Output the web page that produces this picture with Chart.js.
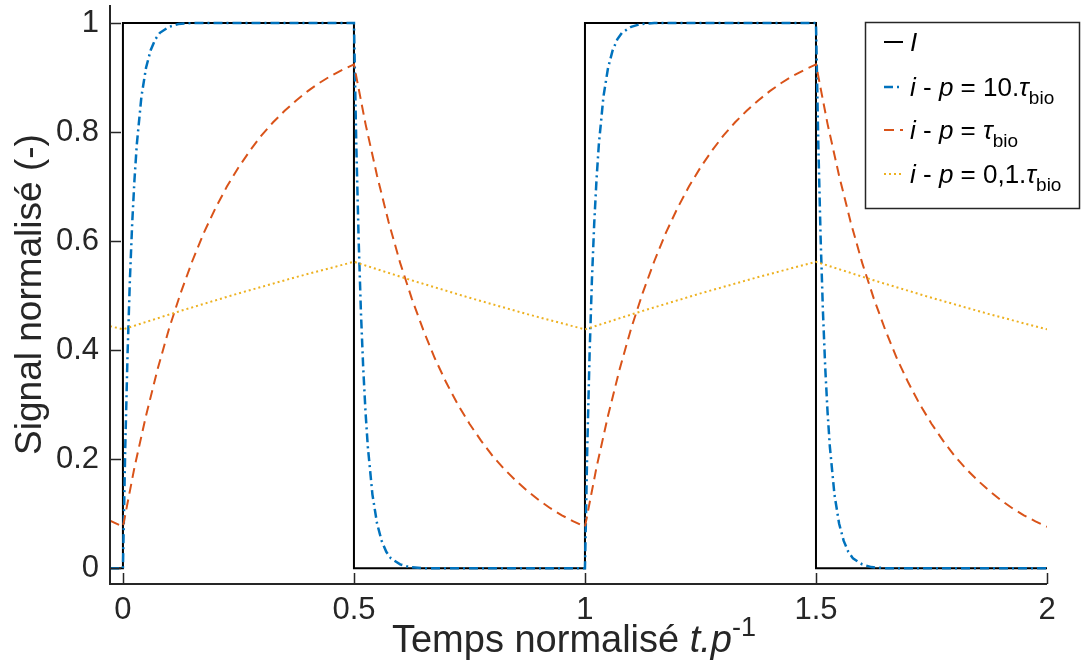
<!DOCTYPE html>
<html>
<head>
<meta charset="utf-8">
<title>Signal normalisé</title>
<script src="https://cdnjs.cloudflare.com/ajax/libs/Chart.js/4.4.0/chart.umd.min.js"></script>
<style>
  html, body { margin: 0; padding: 0; background: #fff; }
  #wrap { width: 1081px; height: 670px; }
</style>
</head>
<body>
<div id="wrap"><canvas id="chart" width="1081" height="670"></canvas></div>
<script>
// axis ranges and ticks
const xMin = -0.028, xMax = 2;
const yMin = -0.029, yMax = 1.033;
const xTicks = [0, 0.5, 1, 1.5, 2];
const yTicks = [0, 0.2, 0.4, 0.6, 0.8, 1];

// I : square excitation
const iTime = [-0.028, 0, 0, 0.5, 0.5, 1, 1, 1.5, 1.5, 2];
const iVal  = [0, 0, 1, 1, 0, 0, 1, 1, 0, 0];

// i - p = 10.tau_bio (fast response)
const fastTime = [
  -0.028,
  0, 0.005, 0.01, 0.015, 0.02, 0.025, 0.03, 0.04, 0.05, 0.06, 0.07, 0.08, 0.1, 0.12, 0.15,
  0.5, 0.505, 0.51, 0.515, 0.52, 0.525, 0.53, 0.54, 0.55, 0.56, 0.57, 0.58, 0.6, 0.62, 0.65,
  1, 1.005, 1.01, 1.015, 1.02, 1.025, 1.03, 1.04, 1.05, 1.06, 1.07, 1.08, 1.1, 1.12, 1.15,
  1.5, 1.505, 1.51, 1.515, 1.52, 1.525, 1.53, 1.54, 1.55, 1.56, 1.57, 1.58, 1.6, 1.62, 1.65,
  2
];
const fastVal = [
  0,
  0, 0.221, 0.393, 0.528, 0.632, 0.713, 0.777, 0.865, 0.918, 0.950, 0.970, 0.982, 0.993, 0.998, 1,
  1, 0.779, 0.607, 0.472, 0.368, 0.287, 0.223, 0.135, 0.082, 0.050, 0.030, 0.018, 0.007, 0.002, 0,
  0, 0.221, 0.393, 0.528, 0.632, 0.713, 0.777, 0.865, 0.918, 0.950, 0.970, 0.982, 0.993, 0.998, 1,
  1, 0.779, 0.607, 0.472, 0.368, 0.287, 0.223, 0.135, 0.082, 0.050, 0.030, 0.018, 0.007, 0.002, 0,
  0
];

// i - p = tau_bio
const midTime = [
  -0.028,
  0, 0.025, 0.05, 0.075, 0.1, 0.125, 0.15, 0.175, 0.2, 0.225, 0.25, 0.275, 0.3, 0.325, 0.35, 0.375, 0.4, 0.425, 0.45, 0.475,
  0.5, 0.525, 0.55, 0.575, 0.6, 0.625, 0.65, 0.675, 0.7, 0.725, 0.75, 0.775, 0.8, 0.825, 0.85, 0.875, 0.9, 0.925, 0.95, 0.975,
  1, 1.025, 1.05, 1.075, 1.1, 1.125, 1.15, 1.175, 1.2, 1.225, 1.25, 1.275, 1.3, 1.325, 1.35, 1.375, 1.4, 1.425, 1.45, 1.475,
  1.5, 1.525, 1.55, 1.575, 1.6, 1.625, 1.65, 1.675, 1.7, 1.725, 1.75, 1.775, 1.8, 1.825, 1.85, 1.875, 1.9, 1.925, 1.95, 1.975,
  2
];
const midVal = [
  0.087,
  0.076, 0.185, 0.280, 0.365, 0.440, 0.505, 0.563, 0.615, 0.660, 0.700, 0.735, 0.766, 0.794, 0.818, 0.839, 0.858, 0.875, 0.890, 0.903, 0.914,
  0.924, 0.815, 0.720, 0.635, 0.560, 0.495, 0.437, 0.385, 0.340, 0.300, 0.265, 0.234, 0.206, 0.182, 0.161, 0.142, 0.125, 0.110, 0.097, 0.086,
  0.076, 0.185, 0.280, 0.365, 0.440, 0.505, 0.563, 0.615, 0.660, 0.700, 0.735, 0.766, 0.794, 0.818, 0.839, 0.858, 0.875, 0.890, 0.903, 0.914,
  0.924, 0.815, 0.720, 0.635, 0.560, 0.495, 0.437, 0.385, 0.340, 0.300, 0.265, 0.234, 0.206, 0.182, 0.161, 0.142, 0.125, 0.110, 0.097, 0.086,
  0.076
];

// i - p = 0,1.tau_bio (slow response)
const slowTime = [-0.028, 0, 0.125, 0.25, 0.375, 0.5, 0.625, 0.75, 0.875, 1, 1.125, 1.25, 1.375, 1.5, 1.625, 1.75, 1.875, 2];
const slowVal  = [0.444, 0.438, 0.472, 0.504, 0.534, 0.562, 0.528, 0.496, 0.466, 0.438, 0.472, 0.504, 0.534, 0.562, 0.528, 0.496, 0.466, 0.438];

const colors = ['#000000', '#0072BD', '#D95319', '#EDB120'];
const dashes = [[], [9, 4, 2, 4], [10, 6], [2, 3]];
const widths = [2, 2.5, 2, 2];

// legend rows: [text, style] with style '' normal, 'i' italic, 's' subscript
const legendRows = [
  [['I', 'i']],
  [['i', 'i'], [' - ', ''], ['p', 'i'], [' = 10.', ''], ['τ', 'i'], ['bio', 's']],
  [['i', 'i'], [' - ', ''], ['p', 'i'], [' = ', ''], ['τ', 'i'], ['bio', 's']],
  [['i', 'i'], [' - ', ''], ['p', 'i'], [' = 0,1.', ''], ['τ', 'i'], ['bio', 's']]
];
const xTitle = [['Temps normalisé ', ''], ['t.p', 'i'], ['-1', 'p']];
const yTitle = 'Signal normalisé (-)';

const FONT = '"Liberation Sans", Arial, Helvetica, sans-serif';
const axisColor = '#262626';

function zip(t, v) {
  return t.map((x, k) => ({ x: x, y: v[k] }));
}

function fontFor(style, size) {
  if (style === 'i') return `italic ${size}px ${FONT}`;
  if (style === 's' || style === 'p') return `${Math.round(size * 0.72)}px ${FONT}`;
  return `${size}px ${FONT}`;
}

// draws mixed text (italic, sub/superscript) starting at x on baseline y
function drawRich(ctx, parts, x, y, size, align) {
  let total = 0;
  parts.forEach(([txt, st]) => { ctx.font = fontFor(st, size); total += ctx.measureText(txt).width; });
  let cx = align === 'center' ? x - total / 2 : x;
  ctx.textAlign = 'left';
  ctx.textBaseline = 'alphabetic';
  parts.forEach(([txt, st]) => {
    ctx.font = fontFor(st, size);
    let dy = 0;
    if (st === 's') dy = size * 0.32;
    if (st === 'p') dy = -size * 0.42;
    ctx.fillText(txt, cx, y + dy);
    cx += ctx.measureText(txt).width;
  });
}

// no extra room for tick labels at the ends of the axes
function noEndPadding(s) {
  s.paddingTop = 0;
  s.paddingBottom = 0;
  s.paddingLeft = 0;
  s.paddingRight = 0;
}

const framePlugin = {
  id: 'frame',
  afterDraw(chart) {
    const { ctx, chartArea: a, scales: { x, y } } = chart;
    ctx.save();

    // left and bottom spines
    ctx.strokeStyle = axisColor;
    ctx.lineWidth = 2;
    ctx.setLineDash([]);
    ctx.beginPath();
    ctx.moveTo(a.left, a.top);
    ctx.lineTo(a.left, a.bottom);
    ctx.lineTo(a.right, a.bottom);
    ctx.stroke();

    // ticks pointing inward
    ctx.lineWidth = 1.5;
    ctx.beginPath();
    xTicks.forEach(v => {
      const px = Math.round(x.getPixelForValue(v)) + 0.5;
      ctx.moveTo(px, a.bottom);
      ctx.lineTo(px, a.bottom - 11);
    });
    yTicks.forEach(v => {
      const py = Math.round(y.getPixelForValue(v)) + 0.5;
      ctx.moveTo(a.left, py);
      ctx.lineTo(a.left + 11, py);
    });
    ctx.stroke();

    // axis titles
    ctx.fillStyle = axisColor;
    drawRich(ctx, xTitle, 574, 652, 38, 'center');
    ctx.save();
    ctx.translate(41, (a.top + a.bottom) / 2);
    ctx.rotate(-Math.PI / 2);
    ctx.font = `37px ${FONT}`;
    ctx.textAlign = 'center';
    ctx.textBaseline = 'alphabetic';
    ctx.fillText(yTitle, 0, 0);
    ctx.restore();

    // legend box
    const bx = 865, by = 22, bw = 214, bh = 186;
    ctx.fillStyle = '#ffffff';
    ctx.fillRect(bx, by, bw, bh);
    ctx.strokeStyle = axisColor;
    ctx.lineWidth = 1.5;
    ctx.strokeRect(bx + 0.5, by + 0.5, bw, bh);

    const baselines = [51, 96, 139, 183];
    legendRows.forEach((row, k) => {
      ctx.strokeStyle = colors[k];
      ctx.lineWidth = widths[k];
      ctx.setLineDash(dashes[k]);
      ctx.beginPath();
      ctx.moveTo(884, baselines[k] - 9);
      ctx.lineTo(903, baselines[k] - 9);
      ctx.stroke();
      ctx.setLineDash([]);
      ctx.fillStyle = '#000000';
      drawRich(ctx, row, 910, baselines[k], 26, 'left');
    });

    ctx.restore();
  }
};

const series = [zip(iTime, iVal), zip(fastTime, fastVal), zip(midTime, midVal), zip(slowTime, slowVal)];
const names = ['I', 'i - p = 10.τbio', 'i - p = τbio', 'i - p = 0,1.τbio'];

const chart = new Chart(document.getElementById('chart'), {
  type: 'line',
  data: {
    datasets: series.map((d, k) => ({
      label: names[k],
      data: d,
      borderColor: colors[k],
      borderWidth: widths[k],
      borderDash: dashes[k],
      pointRadius: 0,
      tension: 0,
      fill: false,
      order: 4 - k // black underneath, yellow on top
    }))
  },
  options: {
    responsive: false,
    animation: false,
    events: [],
    layout: { padding: { top: 5, right: 34, left: 0, bottom: 0 } },
    plugins: {
      legend: { display: false },
      title: { display: false },
      tooltip: { enabled: false }
    },
    scales: {
      x: {
        type: 'linear',
        min: xMin,
        max: xMax,
        afterBuildTicks: s => { s.ticks = xTicks.map(v => ({ value: v })); },
        afterFit: s => { s.height = 86; noEndPadding(s); },
        grid: { display: false, drawTicks: false },
        border: { display: false },
        ticks: {
          padding: 8,
          color: axisColor,
          font: { family: FONT, size: 31 },
          maxRotation: 0,
          callback: v => String(v)
        }
      },
      y: {
        type: 'linear',
        min: yMin,
        max: yMax,
        afterBuildTicks: s => { s.ticks = yTicks.map(v => ({ value: v })); },
        afterFit: s => { s.width = 110; noEndPadding(s); },
        grid: { display: false, drawTicks: false },
        border: { display: false },
        ticks: {
          padding: 11,
          color: axisColor,
          font: { family: FONT, size: 31 },
          callback: v => String(v)
        }
      }
    }
  },
  plugins: [framePlugin]
});
</script>
</body>
</html>
